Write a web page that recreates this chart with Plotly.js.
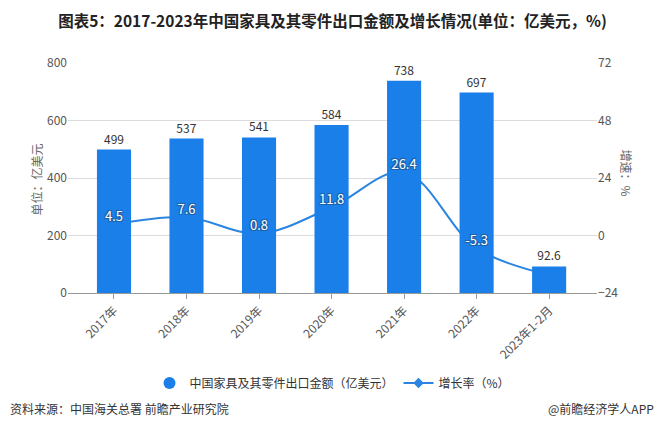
<!DOCTYPE html>
<html>
<head>
<meta charset="utf-8">
<script src="https://cdn.plot.ly/plotly-3.0.1.min.js"></script>
<style>
html,body{margin:0;padding:0;background:#fff;}
#chart{width:663px;height:439px;}
</style>
</head>
<body>
<div id="chart"></div>
<script>
const categories = ['2017年','2018年','2019年','2020年','2021年','2022年','2023年1-2月'];
const exportValues = [499, 537, 541, 584, 738, 697, 92.6];
const growthRates = [4.5, 7.6, 0.8, 11.8, 26.4, -5.3, -16.5];
const growthLabels = ['4.5','7.6','0.8','11.8','26.4','-5.3',''];
const barName = '中国家具及其零件出口金额（亿美元）';
const lineName = '增长率（%）';

const FONT = '"Noto Sans CJK SC", "Noto Sans", sans-serif';
const BLUE = '#1a7fe8';
const LINEBLUE = '#2b85e0';
const OUT = '#1f5fa6';

const traces = [
  { // growth line (under bars)
    type: 'scatter', mode: 'lines', x: categories, y: growthRates,
    xaxis: 'x', yaxis: 'y',
    line: {color: LINEBLUE, width: 2, shape: 'spline', smoothing: 1},
    showlegend: false, hoverinfo: 'skip'
  },
  { // bars (overlay, on top of line)
    type: 'bar', x: categories, y: exportValues, xaxis: 'x', yaxis: 'y2',
    marker: {color: BLUE}, text: exportValues.map(String),
    textposition: 'outside', cliponaxis: false,
    textfont: {family: FONT, size: 12, color: '#333'},
    showlegend: false, hoverinfo: 'skip'
  },
  { // growth labels (top overlay)
    type: 'scatter', mode: 'text', x: categories, y: growthRates,
    xaxis: 'x', yaxis: 'y3', text: growthLabels, textposition: 'top center',
    cliponaxis: false,
    textfont: {family: FONT, size: 13, color: '#ffffff',
      shadow: '-1px -1px 0 '+OUT+', 1px -1px 0 '+OUT+', -1px 1px 0 '+OUT+', 1px 1px 0 '+OUT},
    showlegend: false, hoverinfo: 'skip'
  },
  { // legend entries
    type: 'scatter', mode: 'markers', x: [null], y: [null], xaxis: 'x', yaxis: 'y2',
    name: barName, marker: {color: BLUE, size: 12, symbol: 'circle'}, showlegend: true
  },
  {
    type: 'scatter', mode: 'lines+markers', x: [null], y: [null], xaxis: 'x', yaxis: 'y',
    name: lineName, line: {color: LINEBLUE, width: 2},
    marker: {color: LINEBLUE, size: 8, symbol: 'diamond'}, showlegend: true
  }
];

const layout = {
  width: 663, height: 439,
  margin: {l: 68, r: 66, t: 63, b: 146},
  paper_bgcolor: '#fff', plot_bgcolor: '#fff',
  font: {family: FONT, size: 12, color: '#555'},
  title: {text: '<b>图表5：2017-2023年中国家具及其零件出口金额及增长情况(单位：亿美元，%)</b>',
    font: {family: FONT, size: 15.5, color: '#222'},
    x: 0.5, xref: 'paper', y: 1 - 22/439, yref: 'container', yanchor: 'middle'},
  bargap: 0.53,
  xaxis: {
    type: 'category', range: [-0.634, 6.66], tickangle: -45,
    showline: true, linecolor: '#999', linewidth: 1,
    ticks: 'outside', ticklen: 5, tickcolor: '#999',
    tickfont: {family: FONT, size: 12, color: '#555'},
    showgrid: false, fixedrange: true
  },
  yaxis: { // right: growth
    side: 'right', range: [-24, 72], tickvals: [-24, 0, 24, 48, 72],
    showgrid: true, gridcolor: '#dcdcdc', gridwidth: 1, zeroline: false,
    tickfont: {family: FONT, size: 12, color: '#555'}, ticks: '', showline: false
  },
  yaxis2: { // left: export value
    overlaying: 'y', side: 'left', range: [0, 800], tickvals: [0, 200, 400, 600, 800],
    showgrid: false, zeroline: false, showline: false,
    tickfont: {family: FONT, size: 12, color: '#555'}, ticks: ''
  },
  yaxis3: {
    overlaying: 'y', range: [-24, 72], visible: false, showgrid: false, zeroline: false
  },
  legend: {
    orientation: 'h', x: 0.5, xanchor: 'center', y: (293-383)/230, yanchor: 'middle',
    font: {family: FONT, size: 12, color: '#333'}, itemwidth: 30, traceorder: 'normal'
  },
  annotations: [
    {text: '单位：亿美元', textangle: -90, xref: 'paper', yref: 'paper',
      x: (25-68)/529, y: (293-180)/230, showarrow: false,
      font: {family: FONT, size: 12, color: '#666'}},
    {text: '增速：%', textangle: 90, xref: 'paper', yref: 'paper',
      x: (637-68)/529, y: (293-173)/230, showarrow: false,
      font: {family: FONT, size: 12, color: '#666'}},
    {text: '资料来源：中国海关总署 前瞻产业研究院', xref: 'paper', yref: 'paper',
      x: (8-68)/529, xanchor: 'left', y: (293-408)/230, yanchor: 'middle', showarrow: false,
      font: {family: FONT, size: 12, color: '#333'}},
    {text: '@前瞻经济学人APP', xref: 'paper', yref: 'paper',
      x: (656-68)/529, xanchor: 'right', y: (293-408)/230, yanchor: 'middle', showarrow: false,
      font: {family: FONT, size: 12, color: '#333'}}
  ]
};

Plotly.newPlot('chart', traces, layout, {displayModeBar: false, staticPlot: true});
</script>
</body>
</html>
